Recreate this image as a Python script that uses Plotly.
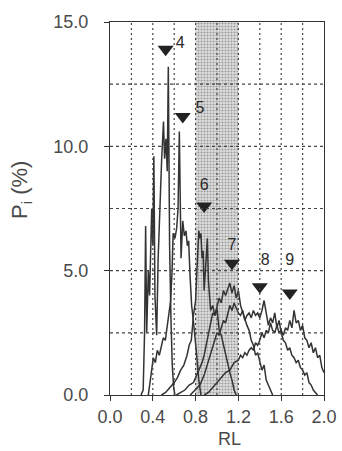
import plotly.graph_objects as go

# ---- data ----
x4 = [0.29, 0.31, 0.323, 0.333, 0.343, 0.358, 0.37, 0.39, 0.40, 0.41, 0.42, 0.436, 0.45,
      0.467, 0.483, 0.50, 0.51, 0.523, 0.535, 0.545, 0.557, 0.57, 0.582, 0.595, 0.607]
y4 = [0.0, 0.2, 2.5, 6.8, 2.5, 5.0, 4.0, 7.5, 6.0, 9.6, 4.0, 2.4, 5.5,
      8.0, 9.5, 11.0, 9.5, 10.3, 9.0, 13.2, 6.0, 3.0, 1.2, 0.3, 0.0]

x5 = [0.358, 0.38, 0.405, 0.424, 0.442, 0.461, 0.48, 0.498, 0.517, 0.536, 0.555, 0.567,
      0.58, 0.59, 0.607, 0.623, 0.636, 0.648, 0.664, 0.68, 0.695, 0.71, 0.723, 0.735,
      0.748, 0.763, 0.779, 0.794, 0.81, 0.83, 0.85]
y5 = [0.0, 0.8, 1.5, 1.3, 1.8, 1.6, 2.0, 2.3, 2.2, 2.8, 3.2, 3.8,
      5.0, 6.5, 6.3, 6.7, 7.5, 10.6, 5.5, 7.0, 6.4, 6.6, 6.0, 6.2,
      4.8, 3.6, 3.0, 2.4, 1.6, 0.6, 0.0]

x6 = [0.48, 0.52, 0.56, 0.60, 0.63, 0.66, 0.69, 0.72, 0.74, 0.76, 0.78, 0.80, 0.81, 0.82,
      0.83, 0.84, 0.85, 0.86, 0.87, 0.88, 0.89, 0.90, 0.91, 0.92, 0.93, 0.94, 0.96, 0.98,
      1.00, 1.02, 1.04, 1.06, 1.08, 1.10, 1.12, 1.14, 1.16, 1.18]
y6 = [0.0, 0.1, 0.3, 0.5, 0.7, 1.0, 1.2, 1.6, 2.0, 2.2, 3.2, 3.8, 4.8, 6.0,
      6.6, 6.3, 6.5, 5.5, 5.8, 4.2, 5.0, 5.6, 6.3, 4.6, 3.9, 3.4, 3.6, 3.2,
      3.5, 2.6, 2.4, 2.0, 1.6, 1.2, 0.9, 0.6, 0.2, 0.0]

x7 = [0.62, 0.66, 0.70, 0.74, 0.78, 0.80, 0.82, 0.84, 0.86, 0.88, 0.90, 0.92, 0.94, 0.96,
      0.98, 1.00, 1.02, 1.04, 1.06, 1.08, 1.10, 1.12, 1.14, 1.16, 1.18, 1.20, 1.22, 1.24,
      1.26, 1.28, 1.30, 1.32, 1.34, 1.36, 1.38, 1.40, 1.42, 1.44, 1.46, 1.48, 1.50, 1.52]
y7 = [0.0, 0.1, 0.2, 0.4, 0.5, 0.7, 0.9, 1.1, 1.3, 1.6, 2.0, 2.4, 2.9, 3.3,
      3.2, 3.6, 3.9, 3.7, 4.2, 4.0, 4.3, 4.5, 4.1, 4.4, 3.9, 4.2, 3.6, 3.3,
      3.0, 2.8, 2.6, 2.2, 2.0, 1.6, 1.7, 1.3, 1.0, 1.2, 0.6, 0.4, 0.2, 0.0]

x8 = [0.75, 0.80, 0.84, 0.88, 0.90, 0.92, 0.94, 0.96, 0.98, 1.00, 1.02, 1.04, 1.06, 1.08,
      1.10, 1.12, 1.14, 1.16, 1.18, 1.20, 1.22, 1.24, 1.26, 1.28, 1.30, 1.32, 1.34, 1.36,
      1.38, 1.40, 1.42, 1.44, 1.46, 1.48, 1.50, 1.52, 1.54, 1.56, 1.58, 1.60, 1.62, 1.64,
      1.66, 1.68, 1.70, 1.72, 1.74, 1.76, 1.78, 1.80, 1.82, 1.84, 1.86, 1.88, 1.90, 1.92, 1.94]
y8 = [0.0, 0.2, 0.4, 0.8, 1.1, 1.4, 1.6, 1.9, 2.2, 2.5, 2.4, 2.7, 3.0, 2.9,
      3.3, 3.6, 3.4, 3.7, 3.5, 3.3, 3.2, 3.4, 3.0, 3.2, 3.3, 3.1, 3.4, 3.2,
      3.3, 3.1, 3.4, 3.8, 3.3, 2.8, 3.1, 2.9, 3.3, 2.7, 3.0, 2.5, 2.2, 2.1,
      1.8, 1.9, 1.6, 1.5, 1.3, 1.4, 1.1, 1.0, 0.8, 0.9, 0.5, 0.4, 0.2, 0.1, 0.0]

x9 = [0.88, 0.92, 0.96, 1.00, 1.04, 1.08, 1.12, 1.16, 1.20, 1.22, 1.24, 1.26, 1.28, 1.30,
      1.32, 1.34, 1.36, 1.38, 1.40, 1.42, 1.44, 1.46, 1.48, 1.50, 1.52, 1.54, 1.56, 1.58,
      1.60, 1.62, 1.64, 1.66, 1.68, 1.70, 1.72, 1.74, 1.76, 1.78, 1.80, 1.82, 1.84, 1.86,
      1.88, 1.90, 1.92, 1.94, 1.96, 1.98, 2.00]
y9 = [0.0, 0.1, 0.3, 0.5, 0.7, 0.9, 1.0, 1.3, 1.4, 1.6, 1.5, 1.7, 1.6, 1.8,
      1.9, 1.8, 2.1, 2.0, 2.2, 2.5, 2.3, 2.6, 2.5, 2.9, 2.6, 2.5, 2.8, 2.5,
      2.6, 2.4, 2.7, 2.6, 3.0, 2.7, 3.4, 2.9, 3.0, 2.6, 2.8, 2.3, 2.2, 1.9,
      2.1, 1.7, 1.9, 1.5, 1.6, 1.1, 0.9]

band_x = [0.8, 1.2]            # shaded RL interval
marker_labels = ["4", "5", "6", "7", "8", "9"]
marker_x = [0.52, 0.68, 0.88, 1.14, 1.40, 1.68]
marker_y = [13.9, 11.2, 7.6, 5.3, 4.35, 4.1]
label_x = [0.655, 0.84, 0.88, 1.14, 1.45, 1.68]
label_y = [14.1, 11.5, 8.4, 6.0, 5.4, 5.4]

x_ticks = [0.0, 0.4, 0.8, 1.2, 1.6, 2.0]
y_ticks = [0.0, 5.0, 10.0, 15.0]
grid_vx = [0.2, 0.4, 0.6, 0.8, 1.0, 1.2, 1.4, 1.6, 1.8]
grid_hy = [2.5, 5.0, 7.5, 10.0, 12.5]

LINE = "#333333"
TXT = "#4a4a4a"

fig = go.Figure()

# stippled band
fig.add_trace(go.Scatter(
    x=[band_x[0], band_x[1], band_x[1], band_x[0], band_x[0]],
    y=[0, 0, 15, 15, 0], mode="lines", line=dict(width=0),
    fill="toself",
    fillpattern=dict(shape=".", fgcolor="#5a5a5a", bgcolor="rgba(210,210,210,0.7)",
                     size=3, solidity=0.4),
    hoverinfo="skip", showlegend=False))

for xs, ys in [(x4, y4), (x5, y5), (x6, y6), (x7, y7), (x8, y8), (x9, y9)]:
    fig.add_trace(go.Scatter(x=xs, y=ys, mode="lines",
                             line=dict(color=LINE, width=1.5),
                             showlegend=False))

fig.add_trace(go.Scatter(x=marker_x, y=marker_y, mode="markers",
                         marker=dict(symbol="triangle-down", size=14, color="#222222"),
                         showlegend=False))
fig.add_trace(go.Scatter(x=label_x, y=label_y, mode="text", text=marker_labels,
                         textfont=dict(family="Liberation Sans Narrow, Liberation Sans, Arial",
                                       size=16, color="#2a2a2a"),
                         showlegend=False))

fig.update_layout(
    width=342, height=451,
    margin=dict(l=110, r=18, t=22, b=56),
    paper_bgcolor="white", plot_bgcolor="white",
    font=dict(family="Liberation Sans, Arial, sans-serif", color=TXT),
    xaxis=dict(range=[0, 2.0], tickvals=x_ticks,
               ticktext=[f"{v:.1f}" for v in x_ticks],
               tickfont=dict(size=18, color=TXT),
               ticks="outside", ticklen=5, tickcolor=LINE,
               showline=True, mirror=True, linecolor=LINE, linewidth=1.3,
               showgrid=False, zeroline=False, automargin=False),
    yaxis=dict(range=[0, 15.0], tickvals=y_ticks,
               ticktext=[f"{v:.1f}" for v in y_ticks],
               tickfont=dict(size=18, color=TXT),
               ticks="outside", ticklen=5, tickcolor=LINE,
               ticklabelstandoff=12,
               showline=True, mirror=True, linecolor=LINE, linewidth=1.3,
               showgrid=False, zeroline=False, automargin=False),
)

for gx in grid_vx:
    fig.add_shape(type="line", x0=gx, x1=gx, y0=0, y1=15, xref="x", yref="y",
                  line=dict(color="#444444", width=1.2, dash="2px,3px"), layer="above")
for gy in grid_hy:
    fig.add_shape(type="line", x0=0, x1=2.0, y0=gy, y1=gy, xref="x", yref="y",
                  line=dict(color="#444444", width=1.2, dash="3px,3px"), layer="above")

fig.add_annotation(text="RL", x=0.56, y=-0.118, xref="paper", yref="paper",
                   showarrow=False, font=dict(size=18, color=TXT), yanchor="middle")
fig.add_annotation(text="P<sub>i</sub> (%)", x=-0.415, y=0.55, xref="paper", yref="paper",
                   showarrow=False, textangle=-90, font=dict(size=22, color=TXT),
                   xanchor="center", yanchor="middle")

fig.write_html("out.html", config={"displayModeBar": False},
               post_script="document.body.style.margin='0';document.body.style.overflow='hidden';")
